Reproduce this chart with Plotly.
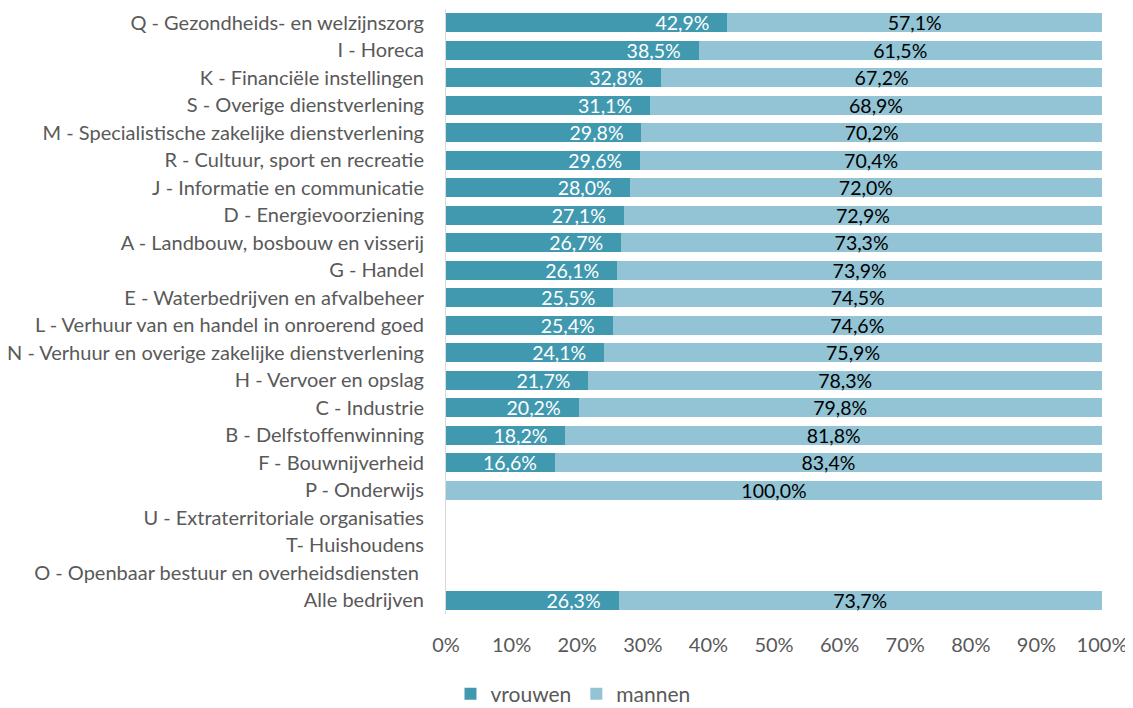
import plotly.graph_objects as go

categories = [
    "Q - Gezondheids- en welzijnszorg",
    "I - Horeca",
    "K - Financiële instellingen",
    "S - Overige dienstverlening",
    "M - Specialistische zakelijke dienstverlening",
    "R - Cultuur, sport en recreatie",
    "J - Informatie en communicatie",
    "D - Energievoorziening",
    "A - Landbouw, bosbouw en visserij",
    "G - Handel",
    "E - Waterbedrijven en afvalbeheer",
    "L - Verhuur van en handel in onroerend goed",
    "N - Verhuur en overige zakelijke dienstverlening",
    "H - Vervoer en opslag",
    "C - Industrie",
    "B - Delfstoffenwinning",
    "F - Bouwnijverheid",
    "P - Onderwijs",
    "U - Extraterritoriale organisaties",
    "T- Huishoudens",
    "O - Openbaar bestuur en overheidsdiensten ",
    "Alle bedrijven",
]
vrouwen = [42.9, 38.5, 32.8, 31.1, 29.8, 29.6, 28.0, 27.1, 26.7, 26.1, 25.5, 25.4,
           24.1, 21.7, 20.2, 18.2, 16.6, 0.0, None, None, None, 26.3]
mannen = [57.1, 61.5, 67.2, 68.9, 70.2, 70.4, 72.0, 72.9, 73.3, 73.9, 74.5, 74.6,
          75.9, 78.3, 79.8, 81.8, 83.4, 100.0, None, None, None, 73.7]
tick_vals = [0, 10, 20, 30, 40, 50, 60, 70, 80, 90, 100]
tick_text = [f"{v}%" for v in tick_vals]


def fmt(v, pad=""):
    if v is None or v == 0:
        return ""
    return f"{v:.1f}%".replace(".", ",") + pad


font_family = "Lato"
NBSP = "\u00a0"

# the page body has an 8px default margin; compensate so the plot area lands
# on the same pixels as the reference
OFF = 8

fig = go.Figure()
fig.add_trace(go.Bar(
    y=categories, x=vrouwen, name="vrouwen", orientation="h",
    marker=dict(color="#4199B0", line=dict(width=0)),
    text=[fmt(v, NBSP * 3) for v in vrouwen], textposition="inside",
    insidetextanchor="end", textangle=0, constraintext="none",
    textfont=dict(color="white", size=19.5, family=font_family),
    cliponaxis=False,
))
fig.add_trace(go.Bar(
    y=categories, x=mannen, name="mannen", orientation="h",
    marker=dict(color="#92C4D5", line=dict(width=0)),
    text=[fmt(v) for v in mannen], textposition="inside",
    insidetextanchor="middle", textangle=0, constraintext="none",
    textfont=dict(color="black", size=19.5, family=font_family),
    cliponaxis=False,
))

fig.update_layout(
    barmode="stack",
    bargap=0.3,
    width=1133, height=708,
    margin=dict(l=446 - OFF, r=31 + OFF, t=9 - OFF, b=94 + OFF),
    paper_bgcolor="white", plot_bgcolor="white",
    font=dict(family=font_family, size=20, color="#595959"),
    showlegend=True,
    legend=dict(orientation="h", x=(573 - OFF) / 1133, xref="container", xanchor="center",
                y=(708 - (694 - OFF)) / 708, yref="container", yanchor="middle",
                itemwidth=30,
                font=dict(size=21, color="#595959"), traceorder="normal"),
    xaxis=dict(range=[0, 100], tickvals=tick_vals, ticktext=tick_text,
               showgrid=False, zeroline=False, showline=False, automargin=False,
               tickfont=dict(size=20, color="#595959"), ticks="",
               ticklabelstandoff=17, fixedrange=True),
    yaxis=dict(autorange="reversed", showgrid=False, zeroline=False,
               showline=True, linecolor="#D9D9D9", linewidth=1, automargin=False,
               ticks="", ticklabelstandoff=17,
               tickfont=dict(size=20, color="#595959")),
)

fig.write_html("out.html")
